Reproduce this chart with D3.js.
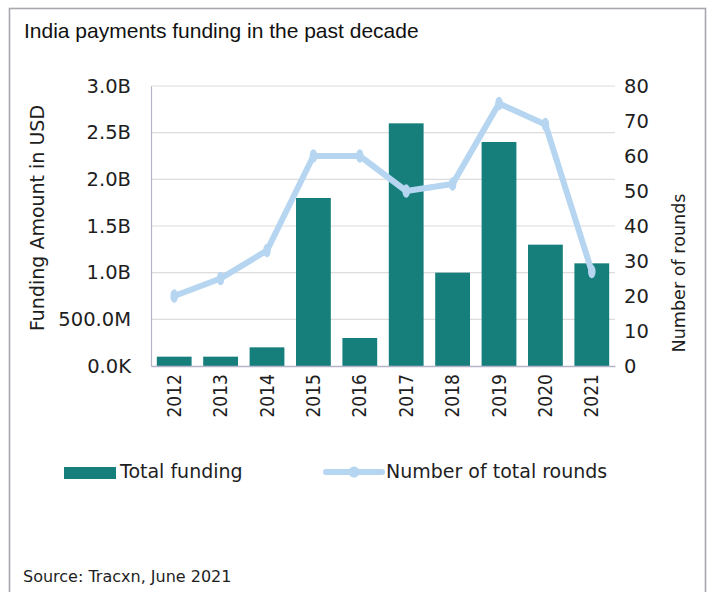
<!DOCTYPE html>
<html>
<head>
<meta charset="utf-8">
<script src="https://cdn.jsdelivr.net/npm/d3@7"></script>
<style>
  html, body { margin: 0; padding: 0; background: #ffffff; }
  svg { display: block; }
</style>
</head>
<body>
<svg id="chart" width="713" height="592"></svg>
<script>
// India payments funding, 2012-2021
const years = ["2012", "2013", "2014", "2015", "2016", "2017", "2018", "2019", "2020", "2021"];
const fundingUSD = [0.1e9, 0.1e9, 0.2e9, 1.8e9, 0.3e9, 2.6e9, 1.0e9, 2.4e9, 1.3e9, 1.1e9];
const rounds = [20, 25, 33, 60, 60, 50, 52, 75, 69, 27];
const fundingTicks = [0, 0.5e9, 1.0e9, 1.5e9, 2.0e9, 2.5e9, 3.0e9];
const roundTicks = [0, 10, 20, 30, 40, 50, 60, 70, 80];

const BAR = "#167f7c";
const LINE = "#b5d5f0";
const TEXT = "#1e1e1e";

const svg = d3.select("#chart");

// outer frame
svg.append("rect")
  .attr("x", 9.5).attr("y", 8.5)
  .attr("width", 696).attr("height", 640)
  .attr("fill", "none").attr("stroke", "#a8a8ae").attr("stroke-width", 1.6);

svg.append("text")
  .attr("x", 24).attr("y", 38)
  .attr("font-family", "Liberation Sans, Arial, sans-serif")
  .attr("font-size", 21).attr("fill", "#111")
  .text("India payments funding in the past decade");

const plot = { left: 151, right: 615, top: 86, bottom: 366 };

const x = d3.scaleBand()
  .domain(years)
  .range([plot.left, plot.right])
  .paddingInner(0.25)
  .paddingOuter(0.125);

const yL = d3.scaleLinear().domain([0, 3e9]).range([plot.bottom, plot.top]);
const yR = d3.scaleLinear().domain([0, 80]).range([plot.bottom, plot.top]);

const fmtFunding = v => v === 0 ? "0.0K"
  : v < 1e9 ? (v / 1e6).toFixed(1) + "M"
  : (v / 1e9).toFixed(1) + "B";

// gridlines
svg.append("g")
  .selectAll("line")
  .data(fundingTicks.slice(1))
  .join("line")
  .attr("x1", plot.left).attr("x2", plot.right)
  .attr("y1", d => yL(d)).attr("y2", d => yL(d))
  .attr("stroke", "#dcdcdc").attr("stroke-width", 1.2);

// left axis
const axisL = svg.append("g")
  .attr("transform", `translate(${plot.left},0)`)
  .call(d3.axisLeft(yL).tickValues(fundingTicks).tickFormat(fmtFunding).tickSize(0).tickPadding(20));
axisL.select(".domain").attr("stroke", "#b4b4c8").attr("stroke-width", 1.2);
axisL.selectAll("text")
  .attr("font-family", "DejaVu Sans, Verdana, sans-serif")
  .attr("font-size", 19.5).attr("fill", TEXT);

// right axis
const axisR = svg.append("g")
  .attr("transform", `translate(${plot.right},0)`)
  .call(d3.axisRight(yR).tickValues(roundTicks).tickSize(0).tickPadding(9));
axisR.select(".domain").remove();
axisR.selectAll("text")
  .attr("font-family", "DejaVu Sans, Verdana, sans-serif")
  .attr("font-size", 19.5).attr("fill", TEXT);

// bars
svg.append("g")
  .selectAll("rect")
  .data(years.map((y, i) => ({ year: y, value: fundingUSD[i] })))
  .join("rect")
  .attr("x", d => x(d.year))
  .attr("width", x.bandwidth())
  .attr("y", d => yL(d.value))
  .attr("height", d => yL(0) - yL(d.value))
  .attr("fill", BAR);

// bottom axis
const axisB = svg.append("g")
  .attr("transform", `translate(0,${plot.bottom})`)
  .call(d3.axisBottom(x).tickSize(0).tickPadding(8));
axisB.select(".domain").attr("stroke", "#b4b4c8").attr("stroke-width", 1.4);
axisB.selectAll("text")
  .attr("font-family", "DejaVu Sans Condensed, DejaVu Sans, sans-serif")
  .attr("font-size", 19).attr("fill", TEXT)
  .attr("text-anchor", "end")
  .attr("dy", "0.35em")
  .attr("transform", "rotate(-90)")
  .attr("x", -8).attr("y", 0);

// rounds line
const cx = d => x(d.year) + x.bandwidth() / 2;
const pts = years.map((y, i) => ({ year: y, value: rounds[i] }));
svg.append("path")
  .datum(pts)
  .attr("fill", "none")
  .attr("stroke", LINE)
  .attr("stroke-width", 6)
  .attr("stroke-linejoin", "round")
  .attr("d", d3.line().x(cx).y(d => yR(d.value)));
svg.append("g")
  .selectAll("ellipse")
  .data(pts)
  .join("ellipse")
  .attr("cx", cx).attr("cy", d => yR(d.value))
  .attr("rx", 3.8).attr("ry", 6.8)
  .attr("fill", LINE);

// axis titles
svg.append("text")
  .attr("transform", "translate(44,218) rotate(-90)")
  .attr("text-anchor", "middle")
  .attr("font-family", "DejaVu Sans, Verdana, sans-serif")
  .attr("font-size", 19).attr("fill", TEXT)
  .text("Funding Amount in USD");
svg.append("text")
  .attr("transform", "translate(685,273) rotate(-90)")
  .attr("text-anchor", "middle")
  .attr("font-family", "DejaVu Sans, Verdana, sans-serif")
  .attr("font-size", 17.6).attr("fill", TEXT)
  .text("Number of rounds");

// legend
const legend = svg.append("g");
legend.append("rect")
  .attr("x", 64).attr("y", 467).attr("width", 52).attr("height", 12)
  .attr("fill", BAR);
legend.append("text")
  .attr("x", 120).attr("y", 478)
  .attr("font-family", "DejaVu Sans, Verdana, sans-serif")
  .attr("font-size", 19).attr("fill", TEXT)
  .text("Total funding");
legend.append("line")
  .attr("x1", 326).attr("x2", 382).attr("y1", 472).attr("y2", 472)
  .attr("stroke", LINE).attr("stroke-width", 6).attr("stroke-linecap", "round");
legend.append("circle")
  .attr("cx", 354).attr("cy", 472).attr("r", 5.5)
  .attr("fill", LINE);
legend.append("text")
  .attr("x", 386).attr("y", 478)
  .attr("font-family", "DejaVu Sans, Verdana, sans-serif")
  .attr("font-size", 19).attr("fill", TEXT)
  .text("Number of total rounds");

// source note
svg.append("text")
  .attr("x", 23).attr("y", 582)
  .attr("font-family", "DejaVu Sans, Verdana, sans-serif")
  .attr("font-size", 16).attr("fill", TEXT)
  .text("Source: Tracxn, June 2021");
</script>
</body>
</html>
